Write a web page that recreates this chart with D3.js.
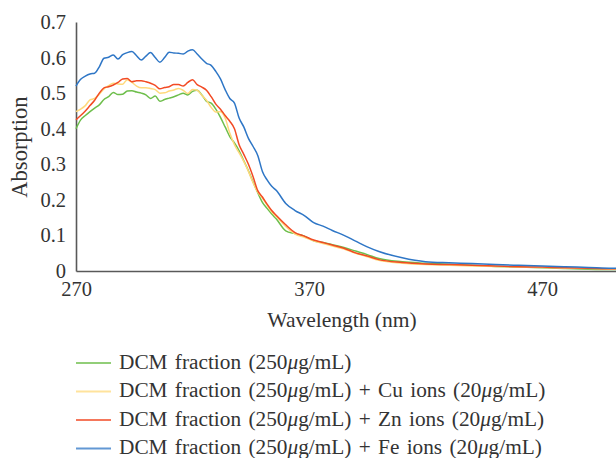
<!DOCTYPE html>
<html>
<head>
<meta charset="utf-8">
<script src="https://cdn.jsdelivr.net/npm/d3@7"></script>
<style>
  body { margin: 0; background: #fff; }
  svg text { font-family: 'Liberation Serif', 'DejaVu Serif', serif !important; fill: #333; }
</style>
</head>
<body>
<div id="chart"></div>
<script>
// wavelength grid (nm)
const wavelength = [270,272,274,276,278,280,282,284,286,288,290,292,294,296,298,300,302,304,306,308,
  310,312,314,316,318,320,322,324,326,328,330,332,334,336,338,340,342,344,346,348,350,352,354,356,
  360,364,368,372,376,380,385,390,395,400,410,420,430,440,450,460,470,480,490,500,502];

// absorption readings
const dcm = [0.400,0.425,0.437,0.448,0.458,0.467,0.482,0.490,0.502,0.496,0.497,0.506,0.507,0.503,0.500,0.495,0.485,0.492,0.477,0.482,
  0.486,0.490,0.495,0.500,0.495,0.505,0.508,0.495,0.477,0.472,0.455,0.432,0.405,0.378,0.360,0.338,0.310,0.282,0.250,0.220,0.193,0.176,0.160,0.146,
  0.113,0.105,0.098,0.085,0.080,0.074,0.066,0.056,0.046,0.035,0.026,0.022,0.019,0.016,0.013,0.011,0.009,0.007,0.005,0.004,0.004];
const dcmCu = [0.448,0.455,0.465,0.481,0.485,0.497,0.512,0.521,0.528,0.526,0.525,0.538,0.530,0.520,0.515,0.515,0.513,0.510,0.500,0.501,
  0.506,0.509,0.513,0.508,0.499,0.510,0.508,0.494,0.480,0.460,0.447,0.448,0.430,0.388,0.355,0.332,0.308,0.280,0.248,0.222,0.205,0.185,0.166,0.153,
  0.125,0.104,0.095,0.085,0.077,0.070,0.062,0.050,0.040,0.030,0.022,0.018,0.016,0.014,0.013,0.011,0.010,0.008,0.007,0.005,0.005];
const dcmZn = [0.425,0.437,0.450,0.465,0.480,0.500,0.515,0.518,0.523,0.530,0.540,0.541,0.532,0.535,0.535,0.532,0.528,0.522,0.512,0.516,
  0.518,0.524,0.524,0.520,0.530,0.538,0.524,0.517,0.508,0.490,0.469,0.455,0.437,0.421,0.400,0.355,0.328,0.300,0.265,0.226,0.208,0.188,0.170,0.156,
  0.130,0.108,0.098,0.087,0.080,0.073,0.064,0.051,0.042,0.032,0.024,0.020,0.018,0.016,0.014,0.012,0.011,0.009,0.008,0.006,0.006];
const dcmFe = [0.520,0.539,0.548,0.554,0.556,0.574,0.598,0.601,0.607,0.596,0.608,0.614,0.617,0.605,0.593,0.604,0.614,0.600,0.587,0.600,
  0.615,0.613,0.612,0.610,0.618,0.622,0.610,0.596,0.584,0.578,0.561,0.540,0.510,0.485,0.472,0.430,0.405,0.373,0.350,0.325,0.280,0.256,0.238,0.226,
  0.190,0.170,0.156,0.136,0.126,0.114,0.100,0.084,0.068,0.055,0.037,0.026,0.023,0.021,0.018,0.016,0.014,0.012,0.010,0.008,0.008];

const seriesNames = ["DCM fraction (250|μ|g/mL)",
  "DCM fraction (250|μ|g/mL) + Cu ions (20|μ|g/mL)",
  "DCM fraction (250|μ|g/mL) + Zn ions (20|μ|g/mL)",
  "DCM fraction (250|μ|g/mL) + Fe ions (20|μ|g/mL)"];
const seriesColors = ["#6dbe4b", "#ffd97c", "#f24a24", "#2e76c6"];
const seriesValues = [dcm, dcmCu, dcmZn, dcmFe];

const yTicks = [0, 0.1, 0.2, 0.3, 0.4, 0.5, 0.6, 0.7];
const xTicks = [270, 370, 470];

const W = 616, H = 458;
const margin = {top: 22, left: 76, bottom: 187};

const svg = d3.select("#chart").append("svg")
    .attr("width", W)
    .attr("height", H);

const x = d3.scaleLinear().domain([270, 502]).range([margin.left, 616.6]);
const y = d3.scaleLinear().domain([0, 0.7]).range([H - margin.bottom, margin.top]);

// axes
const yAxis = svg.append("g")
    .attr("transform", `translate(${margin.left},0)`)
    .call(d3.axisLeft(y).tickValues(yTicks).tickSize(0).tickPadding(10)
        .tickFormat(d => d === 0 ? "0" : d3.format(".1f")(d)));
const xAxis = svg.append("g")
    .attr("transform", `translate(0,${H - margin.bottom})`)
    .call(d3.axisBottom(x).tickValues(xTicks).tickSize(0).tickPadding(10));

[yAxis, xAxis].forEach(a => {
    a.attr("font-size", 20.5);
    a.select(".domain").attr("stroke", "#595959").attr("stroke-width", 1.6);
});

// titles
svg.append("text")
    .attr("x", 342)
    .attr("y", 327)
    .attr("text-anchor", "middle")
    .attr("font-size", 21.5)
    .text("Wavelength (nm)");

svg.append("text")
    .attr("transform", "translate(27,147) rotate(-90)")
    .attr("text-anchor", "middle")
    .attr("font-size", 22.5)
    .text("Absorption");

// lines
const line = d3.line()
    .x((d, i) => x(wavelength[i]))
    .y(d => y(d))
    .curve(d3.curveMonotoneX);

svg.append("g")
    .selectAll("path")
    .data(seriesValues)
    .enter()
    .append("path")
    .attr("fill", "none")
    .attr("stroke", (d, i) => seriesColors[i])
    .attr("stroke-width", 1.5)
    .attr("d", line);

// legend
const legend = svg.append("g").attr("class", "legend");
const rows = legend.selectAll("g")
    .data(seriesNames)
    .enter()
    .append("g")
    .attr("transform", (d, i) => `translate(76,${363 + i * 28.5})`);

rows.append("line")
    .attr("x1", 0).attr("x2", 35)
    .attr("stroke", (d, i) => seriesColors[i])
    .attr("stroke-opacity", 0.75)
    .attr("stroke-width", 2);

rows.append("text")
    .attr("x", 43)
    .attr("y", 5.5)
    .attr("font-size", 21.3)
    .attr("word-spacing", 2)
    .each(function(d) {
        const t = d3.select(this);
        d.split("|").forEach(part => {
            t.append("tspan")
                .attr("font-style", part === "μ" ? "italic" : null)
                .text(part);
        });
    });
</script>
</body>
</html>
